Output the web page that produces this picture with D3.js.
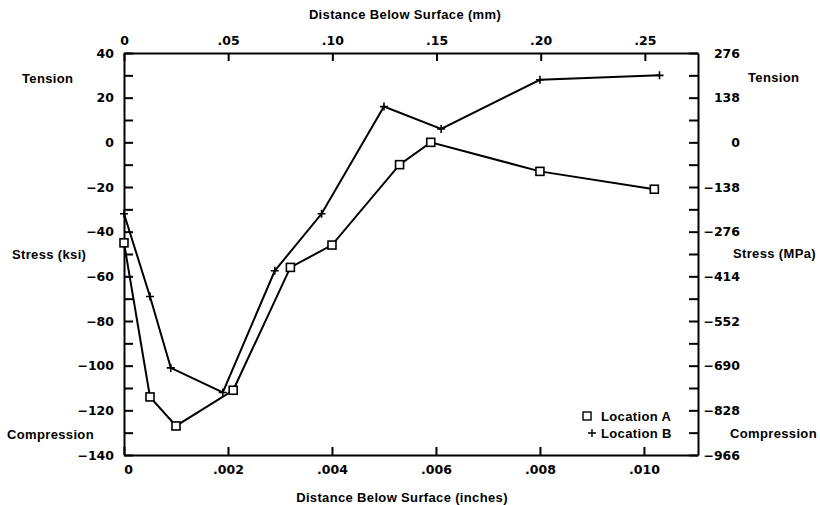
<!DOCTYPE html>
<html>
<head>
<meta charset="utf-8">
<script src="https://cdn.jsdelivr.net/npm/d3@7"></script>
<style>
  body { margin:0; background:#fff; }
  svg text { font-family:"Liberation Sans", Arial, sans-serif; font-weight:bold; font-size:13px; letter-spacing:0.35px; fill:#000; }
  svg .tick text { font-family:"DejaVu Sans", sans-serif; font-size:12.5px; letter-spacing:0; }
</style>
</head>
<body>
<svg id="chart" width="820" height="505"></svg>
<script>
// valores
const depthA  = [0, .0005, .001, .0021, .0032, .004, .0053, .0059, .008, .0102];
const stressA = [-45, -114, -127, -111, -56, -46, -10, 0, -13, -21];
const depthB  = [0, .0005, .0009, .0019, .0029, .0038, .005, .0061, .008, .0103];
const stressB = [-32, -69, -101, -112, -57.5, -32, 16, 6, 28, 30];

const inchTicks = [0, .002, .004, .006, .008, .010];
const inchLabels = ["0", ".002", ".004", ".006", ".008", ".010"];
const mmTicks = [0, .05, .10, .15, .20, .25];
const mmLabels = ["0", ".05", ".10", ".15", ".20", ".25"];
const ksiTicks = [40, 30, 20, 10, 0, -10, -20, -30, -40, -50, -60, -70, -80, -90, -100, -110, -120, -130, -140];
const mpaTicks = [276, 207, 138, 69, 0, -69, -138, -207, -276, -345, -414, -483, -552, -621, -690, -759, -828, -897, -966];
const mpaLabels = ["276", "138", "0", "−138", "−276", "−414", "−552", "−690", "−828", "−966"];

const svg = d3.select('#chart');
const L = 124, R = 698, T = 53, B = 455;

const x = d3.scaleLinear().domain([0, .01104]).range([L, R]);
const xmm = d3.scaleLinear().domain([0, .2755]).range([L, R]);
const y = d3.scaleLinear().domain([-140, 40]).range([B, T]);
const ympa = d3.scaleLinear().domain([-966, 276]).range([B, T]);

const minus = s => String(s).replace('-', '−');

// ejes
const gL = svg.append('g').attr('transform', `translate(${L},0)`)
  .call(d3.axisLeft(y).tickValues(ksiTicks).tickSize(-9).tickSizeOuter(0).tickPadding(10)
    .tickFormat(d => d % 20 === 0 ? minus(d) : ''));
const gR = svg.append('g').attr('transform', `translate(${R},0)`)
  .call(d3.axisRight(ympa).tickValues(mpaTicks).tickSize(-9).tickSizeOuter(0)
    .tickFormat(d => { const i = mpaLabels.indexOf(minus(d)); return i < 0 ? '' : mpaLabels[i]; }));
gR.selectAll('.tick text').attr('text-anchor', 'end').attr('x', 42);
const gB = svg.append('g').attr('transform', `translate(0,${B})`)
  .call(d3.axisBottom(x).tickValues(inchTicks).tickSize(-8).tickSizeOuter(0).tickPadding(10)
    .tickFormat((d, i) => inchLabels[i]));
gB.select('.tick text').attr('dx', 4);
const gT = svg.append('g').attr('transform', `translate(0,${T})`)
  .call(d3.axisTop(xmm).tickValues(mmTicks).tickSize(-8).tickSizeOuter(0).tickPadding(8)
    .tickFormat((d, i) => mmLabels[i]));

svg.selectAll('.domain').attr('stroke', '#000').attr('stroke-width', 2);
svg.selectAll('.tick line').attr('stroke', '#000').attr('stroke-width', 2);
svg.selectAll('g').attr('font-size', null).attr('font-family', null);

// títulos
const lab = (t, px, py, anchor) => svg.append('text').attr('x', px).attr('y', py)
  .attr('text-anchor', anchor || 'start').attr('dy', '.35em').text(t);
lab('Distance Below Surface (mm)', 405, 14, 'middle');
lab('Distance Below Surface (inches)', 402, 497, 'middle');
lab('Tension', 22, 78);
lab('Stress (ksi)', 12, 254);
lab('Compression', 7, 434);
lab('Tension', 748, 77);
lab('Stress (MPa)', 733, 253);
lab('Compression', 730, 433);

// series
const line = d3.line().x(d => x(d[0])).y(d => y(d[1]));
const A = depthA.map((d, i) => [d, stressA[i]]);
const Bp = depthB.map((d, i) => [d, stressB[i]]);

svg.append('path').datum(A).attr('d', line).attr('fill', 'none').attr('stroke', '#000').attr('stroke-width', 2);
svg.append('path').datum(Bp).attr('d', line).attr('fill', 'none').attr('stroke', '#000').attr('stroke-width', 2);

const sq = 8;
svg.selectAll('.ma').data(A).enter().append('rect').attr('class', 'ma')
  .attr('x', d => x(d[0]) - sq / 2).attr('y', d => y(d[1]) - sq / 2)
  .attr('width', sq).attr('height', sq)
  .attr('fill', '#fff').attr('stroke', '#000').attr('stroke-width', 1.6);

svg.selectAll('.mb').data(Bp).enter().append('path').attr('class', 'mb')
  .attr('d', d => `M${x(d[0]) - 4},${y(d[1])}h8M${x(d[0])},${y(d[1]) - 4}v8`)
  .attr('stroke', '#000').attr('stroke-width', 1.6);

// leyenda
svg.append('rect').attr('x', 583).attr('y', 412).attr('width', 8).attr('height', 8)
  .attr('fill', '#fff').attr('stroke', '#000').attr('stroke-width', 1.4);
svg.append('path').attr('d', 'M588,433h8M592,429v8').attr('stroke', '#000').attr('stroke-width', 1.4);
lab('Location A', 601, 416);
lab('Location B', 601, 433);
</script>
</body>
</html>
